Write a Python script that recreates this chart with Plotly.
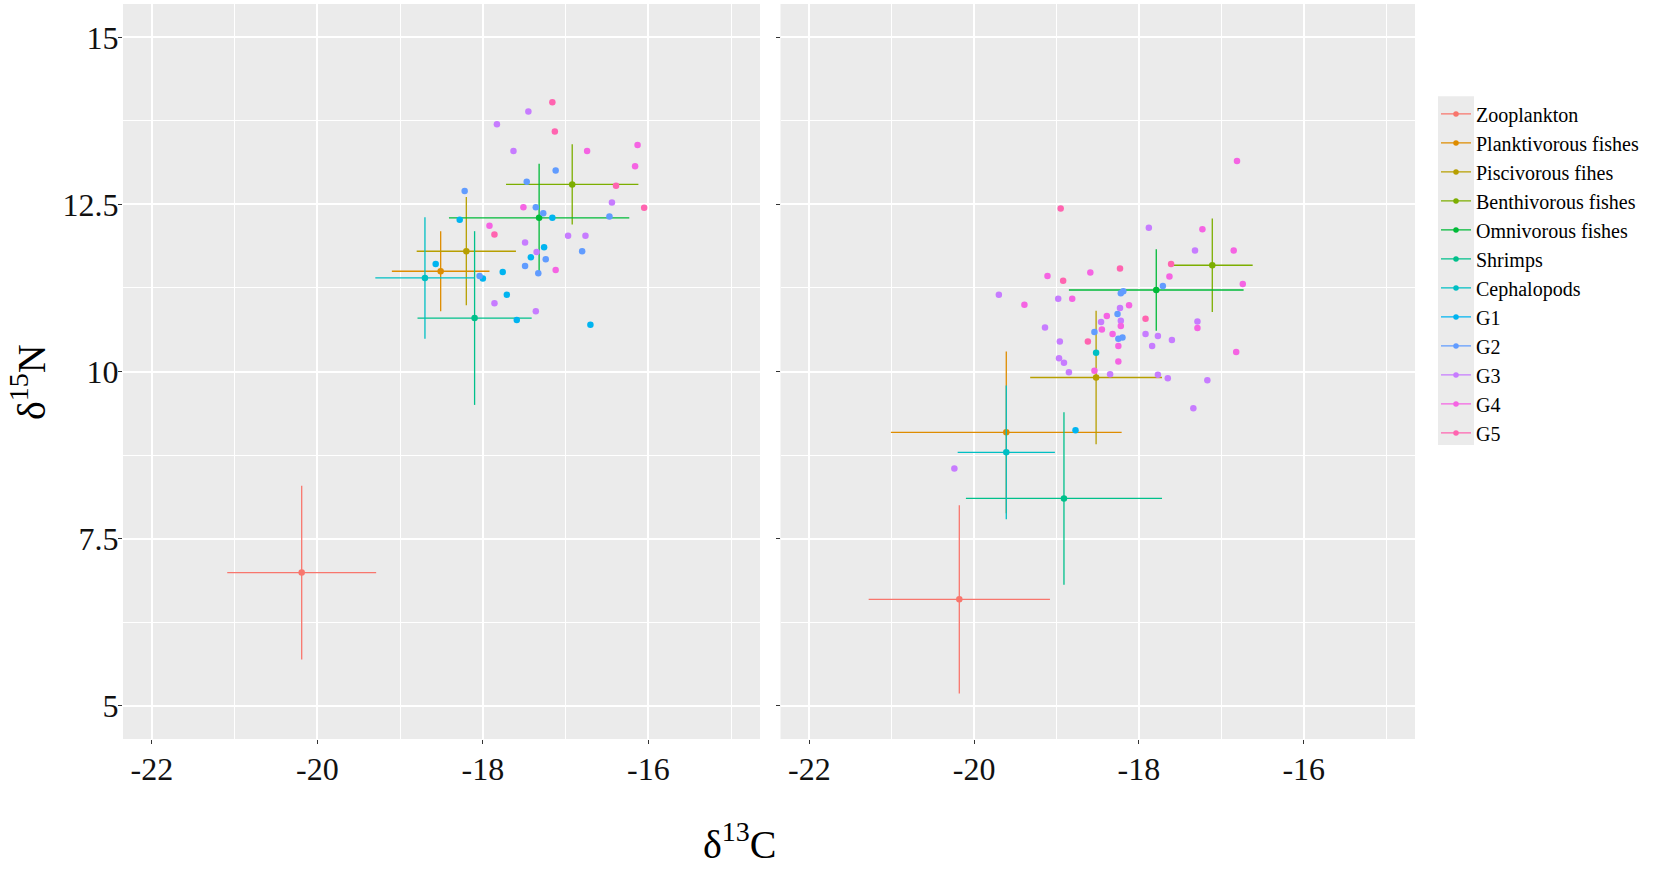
import plotly.graph_objects as go

# ---------------- data ----------------
groups = ["Zooplankton", "Planktivorous fishes", "Piscivorous fihes", "Benthivorous fishes",
          "Omnivorous fishes", "Shrimps", "Cephalopods", "G1", "G2", "G3", "G4", "G5"]
colors = ["#F8766D", "#DE8C00", "#B79F00", "#7CAE00", "#00BA38", "#00C08B",
          "#00BFC4", "#00B4F0", "#619CFF", "#C77CFF", "#F564E3", "#FF64B0"]

# group means +/- SD (first seven groups), panel 1 (left) and panel 2 (right)
mean_groups = groups[:7]
p1_mean_c = [-20.19, -18.51, -18.20, -16.92, -17.32, -18.10, -18.70]
p1_mean_n = [6.99, 11.50, 11.80, 12.80, 12.30, 10.80, 11.40]
p1_sd_c = [0.90, 0.59, 0.60, 0.80, 1.09, 0.69, 0.60]
p1_sd_n = [1.30, 0.60, 0.81, 0.60, 0.81, 1.30, 0.91]

p2_mean_c = [-20.18, -19.61, -18.52, -17.11, -17.79, -18.91, -19.61]
p2_mean_n = [6.59, 9.09, 9.91, 11.59, 11.22, 8.10, 8.79]
p2_sd_c = [1.10, 1.40, 0.80, 0.49, 1.06, 1.19, 0.59]
p2_sd_n = [1.41, 1.21, 1.00, 0.70, 0.61, 1.29, 1.00]

# individual samples, panel 1
p1_G1_c = [-17.16, -18.28, -17.26, -17.42, -18.57, -17.76, -18.00, -17.71, -17.59, -16.70]
p1_G1_n = [12.30, 12.27, 11.86, 11.71, 11.61, 11.49, 11.39, 11.15, 10.77, 10.70]
p1_G2_c = [-17.12, -17.47, -18.22, -17.36, -17.27, -16.47, -16.80, -17.24, -17.49, -17.33, -18.04]
p1_G2_n = [13.01, 12.84, 12.70, 12.46, 12.37, 12.32, 11.80, 11.68, 11.58, 11.47, 11.43]
p1_G3_c = [-17.45, -17.83, -17.63, -16.44, -16.97, -16.76, -17.49, -17.35, -17.86, -17.36]
p1_G3_n = [13.89, 13.70, 13.30, 12.53, 12.03, 12.03, 11.93, 11.79, 11.02, 10.90]
p1_G4_c = [-16.74, -16.13, -16.16, -17.51, -17.92, -17.12]
p1_G4_n = [13.30, 13.39, 13.07, 12.46, 12.18, 11.52]
p1_G5_c = [-17.16, -17.13, -16.39, -16.05, -17.86]
p1_G5_n = [14.03, 13.59, 12.78, 12.45, 12.05]

# individual samples, panel 2
p2_Ceph_c = [-18.52]
p2_Ceph_n = [10.28]
p2_G1_c = [-18.77]
p2_G1_n = [9.12]
p2_G2_c = [-17.71, -18.19, -18.22, -18.26, -18.54, -18.25, -18.20]
p2_G2_n = [11.28, 11.20, 11.17, 10.86, 10.59, 10.49, 10.51]
p2_G3_c = [-17.88, -17.32, -19.70, -18.98, -19.14, -18.96, -18.97, -18.91, -18.85, -18.23,
           -18.46, -18.22, -17.92, -17.77, -17.84, -17.60, -17.29, -18.35, -17.77, -17.65,
           -17.17, -17.34, -20.24]
p2_G3_n = [12.15, 11.81, 11.15, 11.09, 10.66, 10.45, 10.20, 10.13, 9.99, 10.95,
           10.74, 10.76, 10.56, 10.53, 10.38, 10.47, 10.75, 9.96, 9.95, 9.90,
           9.87, 9.45, 8.55]
p2_G4_c = [-16.81, -17.23, -16.85, -17.63, -16.74, -18.59, -19.11, -19.39, -18.81, -18.12,
           -18.39, -18.22, -18.45, -18.32, -18.25, -17.29, -16.82, -18.25, -18.54]
p2_G4_n = [13.15, 12.13, 11.81, 11.42, 11.31, 11.48, 11.43, 11.00, 11.09, 10.99,
           10.83, 10.68, 10.63, 10.56, 10.38, 10.65, 10.29, 10.15, 10.01]
p2_G5_c = [-18.95, -18.92, -17.61, -18.23, -17.92, -18.62]
p2_G5_n = [12.44, 11.36, 11.61, 11.54, 10.79, 10.45]

x_ticks = [-22, -20, -18, -16]
y_ticks = [5, 7.5, 10, 12.5, 15]

# ---------------- figure ----------------
W, H = 1655, 870
ML, MR, MT, MB = 123, 240, 3.5, 130.5
PW = W - ML - MR
PH = H - MT - MB

fig = go.Figure()
col = dict(zip(groups, colors))

def add_means(xs, ys, sx, sy, xa, ya):
    for g, x, y, a, b in zip(mean_groups, xs, ys, sx, sy):
        fig.add_trace(go.Scatter(
            x=[x], y=[y], mode="markers", xaxis=xa, yaxis=ya,
            marker=dict(color=col[g], size=6.5, line=dict(width=0)),
            error_x=dict(type="data", array=[a], color=col[g], thickness=1.3, width=0),
            error_y=dict(type="data", array=[b], color=col[g], thickness=1.3, width=0),
            legendgroup=g, showlegend=False, name=g))

def add_pts(g, xs, ys, xa, ya):
    fig.add_trace(go.Scatter(
        x=xs, y=ys, mode="markers", xaxis=xa, yaxis=ya,
        marker=dict(color=col[g], size=6.5, line=dict(width=0)),
        legendgroup=g, showlegend=False, name=g))

add_means(p1_mean_c, p1_mean_n, p1_sd_c, p1_sd_n, "x", "y")
add_means(p2_mean_c, p2_mean_n, p2_sd_c, p2_sd_n, "x2", "y2")

for g, xs, ys in [("G1", p1_G1_c, p1_G1_n), ("G2", p1_G2_c, p1_G2_n), ("G3", p1_G3_c, p1_G3_n),
                  ("G4", p1_G4_c, p1_G4_n), ("G5", p1_G5_c, p1_G5_n)]:
    add_pts(g, xs, ys, "x", "y")
for g, xs, ys in [("Cephalopods", p2_Ceph_c, p2_Ceph_n), ("G1", p2_G1_c, p2_G1_n),
                  ("G2", p2_G2_c, p2_G2_n), ("G3", p2_G3_c, p2_G3_n),
                  ("G4", p2_G4_c, p2_G4_n), ("G5", p2_G5_c, p2_G5_n)]:
    add_pts(g, xs, ys, "x2", "y2")

# legend entries
for g in groups:
    fig.add_trace(go.Scatter(
        x=[None], y=[None], mode="lines+markers", name=g, legendgroup=g,
        line=dict(color=col[g], width=1.3),
        marker=dict(color=col[g], size=5.5), showlegend=True))

FONT = "Liberation Serif, Times New Roman, serif"
axis_common = dict(
    showline=False, zeroline=False, ticks="outside", ticklen=4, tickwidth=1.1,
    tickcolor="#333333", gridcolor="white", gridwidth=1.5,
    tickfont=dict(family=FONT, size=32, color="#111111"),
)
xa = dict(axis_common, range=[-22.35, -14.65], tickvals=x_ticks,
          ticktext=[f"{v:g}" for v in x_ticks], ticklabelstandoff=-2,
          minor=dict(dtick=1, tick0=-22, showgrid=True, gridcolor="white", gridwidth=0.8, ticks=""))
ya = dict(axis_common, range=[4.5, 15.5], tickvals=y_ticks,
          ticktext=[f"{v:g}" for v in y_ticks], ticklabelstandoff=-7,
          minor=dict(dtick=1.25, tick0=5, showgrid=True, gridcolor="white", gridwidth=0.8, ticks=""))

d1 = 637 / PW
d2 = (780.5 - ML) / PW

def px(ax):
    return (ax - ML) / PW

def py(ay):
    return 1 - (ay - MT) / PH

fig.update_layout(
    width=W, height=H,
    margin=dict(l=ML, r=MR, t=MT, b=MB),
    paper_bgcolor="white", plot_bgcolor="#EBEBEB",
    font=dict(family=FONT, color="black"),
    xaxis=dict(xa, domain=[0, d1], anchor="y"),
    yaxis=dict(ya, domain=[0, 1], anchor="x"),
    xaxis2=dict(xa, domain=[d2, 1], anchor="y2"),
    yaxis2=dict(ya, domain=[0, 1], anchor="x2", matches="y", showticklabels=False),
    legend=dict(x=px(1436), y=py(94), xanchor="left", yanchor="top",
                font=dict(family=FONT, size=20, color="black"),
                bgcolor="rgba(0,0,0,0)", tracegroupgap=0, itemwidth=30),
    showlegend=True,
    shapes=[dict(type="rect", xref="paper", yref="paper",
                 x0=px(1438), x1=px(1474), y0=py(445), y1=py(96),
                 fillcolor="#EBEBEB", line=dict(width=0), layer="below")],
    annotations=[
        dict(text="δ<sup>13</sup>C", xref="paper", yref="paper", x=px(740), y=py(842),
             showarrow=False, font=dict(family=FONT, size=40, color="black"),
             xanchor="center", yanchor="middle"),
        dict(text="δ<sup>15</sup>N", xref="paper", yref="paper", x=px(29), y=py(382),
             showarrow=False, font=dict(family=FONT, size=40, color="black"),
             textangle=-90, xanchor="center", yanchor="middle"),
    ],
)

fig.write_html("out.html", config={"displayModeBar": False},
               post_script="document.body.style.margin='0px';")
